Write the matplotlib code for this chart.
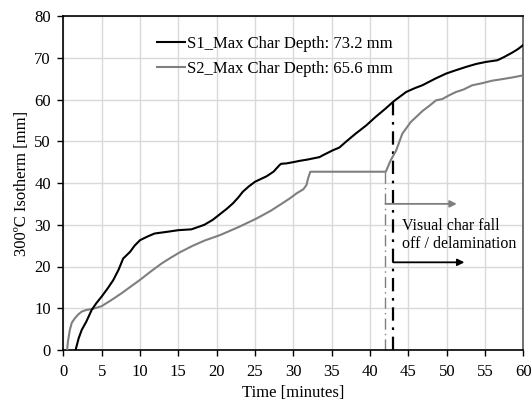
import matplotlib
matplotlib.use("Agg")
import matplotlib.pyplot as plt
import numpy as np

plt.rcParams['font.family'] = ['Liberation Serif', 'DejaVu Serif']
plt.rcParams['font.size'] = 11

# S1 - black curve (time [min], isotherm depth [mm])
s1_t = [1.6, 2.0, 2.4, 3.0, 3.7, 4.3, 5.0, 5.8, 6.5, 7.2, 7.8, 8.7, 9.3, 10.0,
        11.0, 11.9, 13.5, 15.0, 16.7, 17.8, 18.4, 19.5, 20.4, 21.3, 22.1,
        22.8, 23.4, 24.2, 25.0, 25.8, 26.5, 27.4, 28.2, 28.4, 29.1, 30.0,
        30.8, 31.8, 32.6, 33.4, 33.9, 35.1, 36.0, 36.8, 38.1, 39.5, 40.7,
        42.0, 43.1, 44.7, 45.8, 46.8, 48.5, 49.9, 51.0, 52.5, 53.8, 55.1,
        56.6, 57.5, 58.6, 59.3, 60.0]
s1_v = [0.0, 2.8, 4.8, 6.8, 9.6, 11.2, 12.8, 14.8, 16.7, 19.2, 21.9, 23.5,
        25.0, 26.3, 27.2, 27.9, 28.3, 28.7, 28.9, 29.6, 30.0, 31.2, 32.5,
        33.8, 35.1, 36.5, 37.9, 39.2, 40.3, 41.0, 41.6, 42.7, 44.3, 44.6,
        44.7, 45.0, 45.3, 45.6, 45.9, 46.2, 46.7, 47.8, 48.5, 49.8, 51.8,
        53.8, 55.8, 57.8, 59.6, 61.8, 62.7, 63.4, 65.0, 66.2, 66.9, 67.8,
        68.5, 69.0, 69.4, 70.2, 71.3, 72.1, 73.1]

# S2 - grey curve
s2_t = [0.5, 0.6, 0.85, 1.1, 1.5, 2.0, 2.4, 3.0, 3.7, 4.3, 5.0, 6.3, 7.6,
        8.8, 10.0, 11.4, 12.8, 14.0, 15.2, 16.8, 18.4, 20.4, 22.8, 25.2,
        27.0, 28.7, 29.6, 30.4, 31.3, 31.7, 31.9, 32.2, 42.05, 42.3, 42.7,
        43.4, 44.2, 45.3, 46.0, 46.8, 47.8, 48.6, 49.4, 50.3, 51.2, 52.2,
        53.3, 54.6, 55.9, 57.3, 58.6, 60.0]
s2_v = [0.0, 2.0, 4.8, 6.5, 7.6, 8.6, 9.2, 9.6, 9.8, 10.1, 10.5, 12.0, 13.6,
        15.2, 16.8, 18.8, 20.7, 22.1, 23.4, 24.9, 26.2, 27.5, 29.4, 31.5,
        33.3, 35.3, 36.4, 37.5, 38.5, 39.5, 41.0, 42.7, 42.7, 43.8, 45.5,
        47.8, 51.8, 54.6, 55.8, 57.2, 58.6, 59.8, 60.1, 61.0, 61.8, 62.4,
        63.4, 63.9, 64.5, 64.9, 65.3, 65.8]

s1_label = "S1_Max Char Depth: 73.2 mm"
s2_label = "S2_Max Char Depth: 65.6 mm"

# onset of char fall-off (S2 grey, S1 black)
fall_t = [42.0, 43.0]
fall_top = [42.7, 59.7]
arrow_y = [35.0, 21.0]
arrow_end = [51.3, 52.3]
note_lines = ["Visual char fall", "off / delamination"]

fig = plt.figure(figsize=(5.32, 4.0), dpi=100)
ax = fig.add_axes([0.119, 0.125, 0.865, 0.835])

ax.plot(s1_t, s1_v, color='black', lw=1.5, label=s1_label, zorder=4)
ax.plot(s2_t, s2_v, color='#7f7f7f', lw=1.5, label=s2_label, zorder=3)

ax.plot([fall_t[0], fall_t[0]], [0, fall_top[0]], color='#7f7f7f', lw=1.0,
        ls=(0, (8, 3, 1, 3)), zorder=2)
ax.plot([fall_t[1], fall_t[1]], [0, fall_top[1]], color='black', lw=1.6,
        ls=(0, (6, 3, 1.2, 3)), zorder=2)

ax.annotate('', xy=(arrow_end[0], arrow_y[0]), xytext=(fall_t[0], arrow_y[0]),
            arrowprops=dict(arrowstyle='-|>', color='#7f7f7f', lw=1.3,
                            mutation_scale=10, shrinkA=0, shrinkB=0))
ax.annotate('', xy=(arrow_end[1], arrow_y[1]), xytext=(fall_t[1], arrow_y[1]),
            arrowprops=dict(arrowstyle='-|>', color='black', lw=1.3,
                            mutation_scale=10, shrinkA=0, shrinkB=0))
ax.text(44.2, 28.7, note_lines[0], fontsize=11.5, va='baseline', ha='left')
ax.text(44.2, 24.4, note_lines[1], fontsize=11.5, va='baseline', ha='left')

ax.set_xlim(0, 60)
ax.set_ylim(0, 80)
ax.set_xticks(np.arange(0, 61, 5))
ax.set_yticks(np.arange(0, 81, 10))
ax.grid(True, color='#d9d9d9', lw=1.0)
ax.set_axisbelow(True)
ax.tick_params(direction='out', length=4, width=1, labelsize=12, pad=3)
ax.tick_params(axis='x', pad=6)
ax.tick_params(axis='y', pad=5)

for side in ['left', 'bottom', 'top']:
    ax.spines[side].set_color('black')
    ax.spines[side].set_linewidth(1.2)
ax.spines['right'].set_color('#595959')
ax.spines['right'].set_linewidth(1.2)

ax.set_xlabel('Time [minutes]', fontsize=12, labelpad=4)
ax.set_ylabel('300ºC Isotherm [mm]', fontsize=12, labelpad=3)

ax.legend(loc='upper left', bbox_to_anchor=(0.17, 0.985), frameon=False,
          handlelength=1.7, handletextpad=0.1, labelspacing=0.55, fontsize=12)

fig.savefig('out.png', dpi=100)
